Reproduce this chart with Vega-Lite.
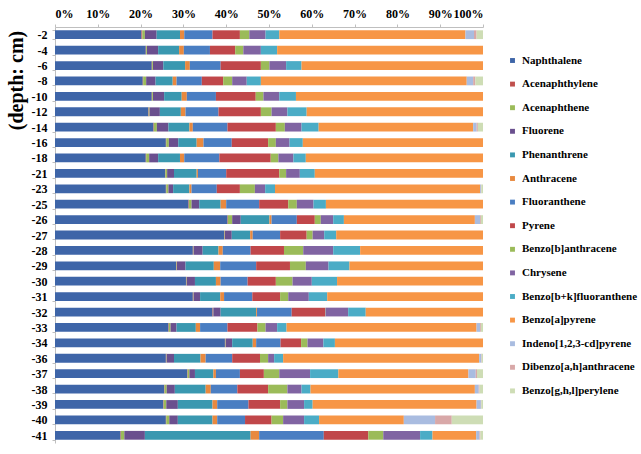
{
  "$schema": "https://vega.github.io/schema/vega-lite/v6.json",
  "autosize": {"type": "none"},
  "width": 428,
  "height": 416,
  "padding": {"left": 55, "top": 27, "right": 158, "bottom": 11},
  "background": "white",
  "datasets": {
    "pah": [
      {"depth": "-2", "Nap": 20.2, "Acy": 0.2, "Ace": 0.6, "Flu": 2.75, "Phe": 5.45, "Ant": 1.0, "Flt": 6.6, "Pyr": 6.4, "BaA": 2.2, "Chr": 3.8, "BbkF": 3.2, "BaP": 43.5, "InP": 2.0, "DahA": 0.6, "BghiP": 1.5},
      {"depth": "-4", "Nap": 21.2, "Acy": 0.1, "Ace": 0.2, "Flu": 2.6, "Phe": 4.9, "Ant": 1.1, "Flt": 6.1, "Pyr": 5.9, "BaA": 1.9, "Chr": 4.1, "BbkF": 3.8, "BaP": 48.1, "InP": 0, "DahA": 0, "BghiP": 0},
      {"depth": "-6", "Nap": 22.6, "Acy": 0.1, "Ace": 0.2, "Flu": 2.4, "Phe": 5.1, "Ant": 1.1, "Flt": 7.2, "Pyr": 9.4, "BaA": 2.0, "Chr": 3.9, "BbkF": 3.6, "BaP": 42.4, "InP": 0, "DahA": 0, "BghiP": 0},
      {"depth": "-8", "Nap": 20.5, "Acy": 0.1, "Ace": 0.7, "Flu": 2.2, "Phe": 4.0, "Ant": 0.9, "Flt": 5.9, "Pyr": 5.0, "BaA": 2.1, "Chr": 3.4, "BbkF": 3.3, "BaP": 48.1, "InP": 1.5, "DahA": 0.5, "BghiP": 1.8},
      {"depth": "-10", "Nap": 22.6, "Acy": 0.1, "Ace": 0.2, "Flu": 2.6, "Phe": 4.1, "Ant": 1.2, "Flt": 6.8, "Pyr": 9.3, "BaA": 1.8, "Chr": 3.7, "BbkF": 3.9, "BaP": 43.7, "InP": 0, "DahA": 0, "BghiP": 0},
      {"depth": "-12", "Nap": 21.8, "Acy": 0.1, "Ace": 0.2, "Flu": 2.4, "Phe": 4.9, "Ant": 1.1, "Flt": 7.7, "Pyr": 9.9, "BaA": 2.5, "Chr": 3.7, "BbkF": 4.5, "BaP": 41.2, "InP": 0, "DahA": 0, "BghiP": 0},
      {"depth": "-14", "Nap": 23.0, "Acy": 0.1, "Ace": 0.7, "Flu": 2.7, "Phe": 4.9, "Ant": 0.8, "Flt": 8.1, "Pyr": 11.3, "BaA": 2.1, "Chr": 3.9, "BbkF": 4.0, "BaP": 36.1, "InP": 0.8, "DahA": 0.3, "BghiP": 1.2},
      {"depth": "-16", "Nap": 25.9, "Acy": 0.1, "Ace": 0.6, "Flu": 2.2, "Phe": 4.3, "Ant": 1.6, "Flt": 6.6, "Pyr": 8.5, "BaA": 1.8, "Chr": 3.2, "BbkF": 3.1, "BaP": 42.1, "InP": 0, "DahA": 0, "BghiP": 0},
      {"depth": "-18", "Nap": 21.2, "Acy": 0.1, "Ace": 0.7, "Flu": 2.1, "Phe": 5.1, "Ant": 1.0, "Flt": 8.2, "Pyr": 12.0, "BaA": 1.8, "Chr": 3.5, "BbkF": 2.9, "BaP": 41.4, "InP": 0, "DahA": 0, "BghiP": 0},
      {"depth": "-21", "Nap": 25.7, "Acy": 0.1, "Ace": 0.4, "Flu": 1.6, "Phe": 5.3, "Ant": 0.3, "Flt": 6.6, "Pyr": 12.4, "BaA": 1.6, "Chr": 3.2, "BbkF": 3.5, "BaP": 39.3, "InP": 0, "DahA": 0, "BghiP": 0},
      {"depth": "-23", "Nap": 25.9, "Acy": 0.1, "Ace": 0.5, "Flu": 1.1, "Phe": 3.8, "Ant": 0.5, "Flt": 5.9, "Pyr": 5.4, "BaA": 3.5, "Chr": 2.4, "BbkF": 2.3, "BaP": 47.9, "InP": 0.2, "DahA": 0.1, "BghiP": 0.4},
      {"depth": "-25", "Nap": 31.2, "Acy": 0.1, "Ace": 0.6, "Flu": 1.8, "Phe": 5.0, "Ant": 1.3, "Flt": 7.7, "Pyr": 6.8, "BaA": 2.0, "Chr": 3.9, "BbkF": 2.9, "BaP": 36.7, "InP": 0, "DahA": 0, "BghiP": 0},
      {"depth": "-26", "Nap": 40.3, "Acy": 0.1, "Ace": 1.0, "Flu": 2.0, "Phe": 6.7, "Ant": 0.5, "Flt": 5.9, "Pyr": 4.2, "BaA": 1.4, "Chr": 2.9, "BbkF": 2.5, "BaP": 30.6, "InP": 1.2, "DahA": 0.2, "BghiP": 0.5},
      {"depth": "-27", "Nap": 39.5, "Acy": 0.1, "Ace": 0.1, "Flu": 1.6, "Phe": 4.3, "Ant": 0.6, "Flt": 6.4, "Pyr": 6.2, "BaA": 1.4, "Chr": 2.7, "BbkF": 2.8, "BaP": 34.3, "InP": 0, "DahA": 0, "BghiP": 0},
      {"depth": "-28", "Nap": 32.2, "Acy": 0.1, "Ace": 0.1, "Flu": 2.1, "Phe": 3.7, "Ant": 1.0, "Flt": 6.5, "Pyr": 7.8, "BaA": 4.5, "Chr": 7.0, "BbkF": 6.3, "BaP": 28.7, "InP": 0, "DahA": 0, "BghiP": 0},
      {"depth": "-29", "Nap": 28.3, "Acy": 0.1, "Ace": 0.1, "Flu": 2.0, "Phe": 6.6, "Ant": 1.5, "Flt": 8.4, "Pyr": 7.9, "BaA": 3.7, "Chr": 5.3, "BbkF": 4.9, "BaP": 31.2, "InP": 0, "DahA": 0, "BghiP": 0},
      {"depth": "-30", "Nap": 30.6, "Acy": 0.1, "Ace": 0.1, "Flu": 1.9, "Phe": 4.9, "Ant": 1.1, "Flt": 6.3, "Pyr": 6.6, "BaA": 3.9, "Chr": 4.5, "BbkF": 5.9, "BaP": 34.1, "InP": 0, "DahA": 0, "BghiP": 0},
      {"depth": "-31", "Nap": 32.2, "Acy": 0.1, "Ace": 0.1, "Flu": 1.5, "Phe": 4.7, "Ant": 0.9, "Flt": 6.6, "Pyr": 6.5, "BaA": 1.9, "Chr": 4.8, "BbkF": 4.3, "BaP": 36.4, "InP": 0, "DahA": 0, "BghiP": 0},
      {"depth": "-32", "Nap": 36.8, "Acy": 0.1, "Ace": 0.1, "Flu": 1.7, "Phe": 8.3, "Ant": 0.2, "Flt": 8.1, "Pyr": 7.8, "BaA": 0.1, "Chr": 5.3, "BbkF": 4.1, "BaP": 27.4, "InP": 0, "DahA": 0, "BghiP": 0},
      {"depth": "-33", "Nap": 26.5, "Acy": 0.1, "Ace": 0.4, "Flu": 1.4, "Phe": 4.5, "Ant": 1.0, "Flt": 6.4, "Pyr": 7.0, "BaA": 1.9, "Chr": 2.7, "BbkF": 2.2, "BaP": 44.4, "InP": 0.8, "DahA": 0.2, "BghiP": 0.5},
      {"depth": "-34", "Nap": 39.7, "Acy": 0.1, "Ace": 0.1, "Flu": 1.5, "Phe": 4.8, "Ant": 0.8, "Flt": 5.7, "Pyr": 4.8, "BaA": 1.5, "Chr": 3.7, "BbkF": 2.7, "BaP": 34.6, "InP": 0, "DahA": 0, "BghiP": 0},
      {"depth": "-36", "Nap": 25.9, "Acy": 0.1, "Ace": 0.1, "Flu": 1.7, "Phe": 6.2, "Ant": 1.2, "Flt": 6.2, "Pyr": 6.5, "BaA": 1.9, "Chr": 1.4, "BbkF": 2.1, "BaP": 45.8, "InP": 0.5, "DahA": 0.1, "BghiP": 0.3},
      {"depth": "-37", "Nap": 30.9, "Acy": 0.1, "Ace": 0.4, "Flu": 1.3, "Phe": 4.3, "Ant": 0.6, "Flt": 5.6, "Pyr": 5.6, "BaA": 3.6, "Chr": 7.2, "BbkF": 6.6, "BaP": 30.4, "InP": 1.7, "DahA": 0.3, "BghiP": 1.4},
      {"depth": "-38", "Nap": 25.5, "Acy": 0.1, "Ace": 0.5, "Flu": 1.9, "Phe": 7.2, "Ant": 1.2, "Flt": 6.2, "Pyr": 7.2, "BaA": 4.5, "Chr": 3.3, "BbkF": 2.1, "BaP": 38.4, "InP": 0.9, "DahA": 0.2, "BghiP": 0.8},
      {"depth": "-39", "Nap": 25.3, "Acy": 0.1, "Ace": 0.6, "Flu": 2.7, "Phe": 8.1, "Ant": 1.1, "Flt": 7.3, "Pyr": 7.4, "BaA": 1.7, "Chr": 3.9, "BbkF": 2.0, "BaP": 38.3, "InP": 1.0, "DahA": 0.1, "BghiP": 0.4},
      {"depth": "-40", "Nap": 25.9, "Acy": 0.1, "Ace": 0.7, "Flu": 2.0, "Phe": 8.1, "Ant": 1.1, "Flt": 6.5, "Pyr": 6.2, "BaA": 2.7, "Chr": 4.9, "BbkF": 3.5, "BaP": 19.8, "InP": 7.3, "DahA": 3.9, "BghiP": 7.3},
      {"depth": "-41", "Nap": 15.3, "Acy": 0.1, "Ace": 0.8, "Flu": 4.8, "Phe": 24.7, "Ant": 2.0, "Flt": 15.1, "Pyr": 10.4, "BaA": 3.5, "Chr": 8.6, "BbkF": 2.9, "BaP": 10.2, "InP": 0.8, "DahA": 0.2, "BghiP": 0.6}
    ],
    "names": [
      {"k": "Nap", "name": "Naphthalene", "i": 1},
      {"k": "Acy", "name": "Acenaphthylene", "i": 2},
      {"k": "Ace", "name": "Acenaphthene", "i": 3},
      {"k": "Flu", "name": "Fluorene", "i": 4},
      {"k": "Phe", "name": "Phenanthrene", "i": 5},
      {"k": "Ant", "name": " Anthracene", "i": 6},
      {"k": "Flt", "name": "Fluoranthene", "i": 7},
      {"k": "Pyr", "name": "Pyrene", "i": 8},
      {"k": "BaA", "name": "Benzo[b]anthracene", "i": 9},
      {"k": "Chr", "name": "Chrysene", "i": 10},
      {"k": "BbkF", "name": "Benzo[b+k]fluoranthene", "i": 11},
      {"k": "BaP", "name": "Benzo[a]pyrene", "i": 12},
      {"k": "InP", "name": "Indeno[1,2,3-cd]pyrene", "i": 13},
      {"k": "DahA", "name": "Dibenzo[a,h]anthracene", "i": 14},
      {"k": "BghiP", "name": "Benzo[g,h,l]perylene", "i": 15}
    ]
  },
  "data": {"name": "pah"},
  "transform": [
    {"fold": ["Nap", "Acy", "Ace", "Flu", "Phe", "Ant", "Flt", "Pyr", "BaA", "Chr", "BbkF", "BaP", "InP", "DahA", "BghiP"], "as": ["k", "v"]},
    {"lookup": "k", "from": {"data": {"name": "names"}, "key": "k", "fields": ["name", "i"]}}
  ],
  "mark": {"type": "bar"},
  "encoding": {
    "y": {
      "field": "depth", "type": "nominal",
      "sort": ["-2","-4","-6","-8","-10","-12","-14","-16","-18","-21","-23","-25","-26","-27","-28","-29","-30","-31","-32","-33","-34","-36","-37","-38","-39","-40","-41"],
      "scale": {"paddingInner": 0.43, "paddingOuter": 0.215},
      "axis": {
        "title": "(depth: cm)",
        "titleFont": "Liberation Serif", "titleFontSize": 20, "titleFontWeight": "bold", "titleColor": "black",
        "titleAngle": 270, "titleX": -39, "titleY": 53, "titleAlign": "center", "titleBaseline": "middle",
        "labelFont": "Liberation Serif", "labelFontSize": 12, "labelFontWeight": "bold", "labelColor": "black",
        "labelPadding": 5, "tickBand": "extent", "tickSize": 3, "tickColor": "#BFBFBF",
        "domainColor": "#BFBFBF", "grid": false
      }
    },
    "x": {
      "field": "v", "type": "quantitative", "stack": "normalize",
      "scale": {"domain": [0, 1], "nice": false},
      "axis": {
        "orient": "top", "title": null, "format": ".0%", "values": [0,0.1,0.2,0.3,0.4,0.5,0.6,0.7,0.8,0.9,1],
        "labelFont": "Liberation Serif", "labelFontSize": 12, "labelFontWeight": "bold", "labelColor": "black",
        "labelPadding": 4, "tickSize": 3, "tickColor": "#BFBFBF", "domainColor": "#BFBFBF", "grid": false
      }
    },
    "color": {
      "field": "name", "type": "nominal",
      "scale": {
        "domain": ["Naphthalene","Acenaphthylene","Acenaphthene","Fluorene","Phenanthrene"," Anthracene","Fluoranthene","Pyrene","Benzo[b]anthracene","Chrysene","Benzo[b+k]fluoranthene","Benzo[a]pyrene","Indeno[1,2,3-cd]pyrene","Dibenzo[a,h]anthracene","Benzo[g,h,l]perylene"],
        "range": ["#3E65A8","#C0504D","#9BBB59","#6A4F8E","#3A98B0","#E8893F","#4A7EC2","#C0474A","#9BBB59","#8064A2","#4BACC6","#F79646","#A9BCE0","#D8A8A8","#CEDDB5"]
      },
      "legend": {
        "title": null, "orient": "none", "legendX": 452, "legendY": 28, "padding": 0,
        "symbolType": "square", "symbolSize": 24, "symbolStrokeWidth": 0,
        "labelFont": "Liberation Serif", "labelFontSize": 11, "labelFontWeight": "bold", "labelColor": "black",
        "labelOffset": 4, "rowPadding": 11.6, "labelLimit": 200
      }
    },
    "order": {"field": "i", "type": "quantitative"}
  },
  "config": {"view": {"stroke": null}}
}
